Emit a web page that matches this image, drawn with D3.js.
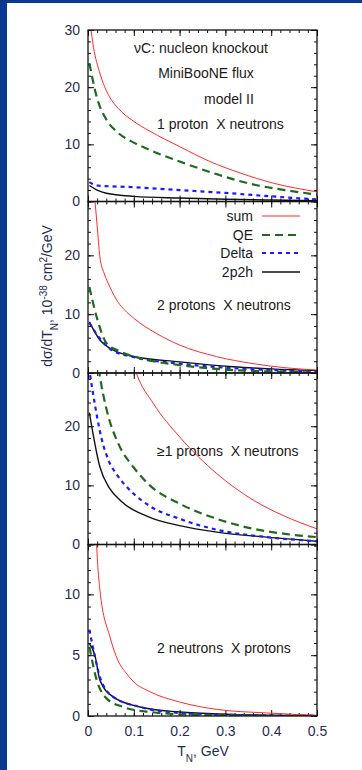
<!DOCTYPE html>
<html><head><meta charset="utf-8">
<script src="https://cdn.jsdelivr.net/npm/d3@7"></script>
<style>body{margin:0;background:#0a3a8f;} svg{display:block}</style>
</head><body><svg id="c" width="362" height="770"></svg>
<script>
// ---- data ----
const xTicks = [0, 0.1, 0.2, 0.3, 0.4, 0.5];
const xTickLabels = ["0", "0.1", "0.2", "0.3", "0.4", "0.5"];
const seriesNames = ["sum", "QE", "Delta", "2p2h"];
const panelLabels = ["1 proton  X neutrons", "2 protons  X neutrons", "\u22651 protons  X neutrons", "2 neutrons  X protons"];
const panelYMax = [30, 29.15, 29, 14.1];
const panelYTicks = [[0, 10, 20, 30], [0, 10, 20], [0, 10, 20], [0, 5, 10]];
const panelYMinorStep = [2, 2, 2, 1];

// panel 1: 1 proton X neutrons
const p1Sum = [[0.005,31],[0.012,27],[0.025,22.7],[0.047,18.3],[0.066,16.3],[0.1,14.0],[0.135,12.3],[0.2,9.6],[0.266,7.0],[0.332,5.0],[0.405,3.2],[0.5,1.7]];
const p1QE = [[0.003,24.2],[0.019,18.3],[0.041,14.2],[0.063,12.2],[0.1,10.3],[0.135,9.0],[0.2,7.0],[0.28,4.8],[0.36,3.0],[0.43,2.0],[0.5,1.2]];
const p1Delta = [[0.003,3.4],[0.02,2.8],[0.1,2.5],[0.2,2.0],[0.3,1.5],[0.4,0.9],[0.5,0.35]];
const p1TwoP = [[0.003,2.8],[0.02,2.0],[0.04,1.45],[0.1,0.9],[0.2,0.6],[0.3,0.4],[0.4,0.25],[0.5,0.15]];
// panel 2: 2 protons X neutrons
const p2Sum = [[0.015,29.5],[0.02,25],[0.026,19.7],[0.035,17],[0.048,14.6],[0.066,12.0],[0.08,10.7],[0.1,9.3],[0.15,6.7],[0.2,4.75],[0.28,2.8],[0.36,1.6],[0.43,0.9],[0.5,0.5]];
const p2QE = [[0.003,14.6],[0.019,9.5],[0.041,5.0],[0.063,3.9],[0.114,2.5],[0.2,1.35],[0.317,0.5],[0.4,0.25],[0.5,0.1]];
const p2Delta = [[0.003,8.5],[0.02,6.5],[0.05,4.0],[0.1,2.7],[0.2,1.6],[0.3,0.9],[0.4,0.5],[0.5,0.2]];
const p2TwoP = [[0.003,8.7],[0.026,5.6],[0.048,4.2],[0.1,2.8],[0.2,1.9],[0.317,1.07],[0.4,0.7],[0.5,0.4]];
// panel 3: >=1 protons X neutrons
const p3Sum = [[0.08,36],[0.106,28.9],[0.143,23.8],[0.2,18.2],[0.281,12.0],[0.361,7.5],[0.426,4.9],[0.5,2.65]];
const p3QE = [[0.02,32],[0.025,29],[0.041,22.7],[0.066,17.1],[0.099,13.1],[0.135,10.0],[0.2,6.9],[0.281,4.35],[0.361,2.65],[0.43,1.8],[0.5,1.25]];
const p3Delta = [[0.002,30],[0.01,26],[0.02,21.5],[0.03,17.8],[0.045,14.2],[0.065,11.6],[0.09,9.3],[0.135,6.5],[0.2,4.35],[0.281,2.5],[0.39,1.25],[0.5,0.56]];
const p3TwoP = [[0.003,22.3],[0.026,13.1],[0.048,9.4],[0.07,7.5],[0.135,4.6],[0.2,3.2],[0.281,2.1],[0.39,1.25],[0.5,0.56]];
// panel 4: 2 neutrons X protons
const p4Sum = [[0.015,18],[0.019,14],[0.026,10.35],[0.048,6.5],[0.065,4.6],[0.084,3.5],[0.1,2.8],[0.135,2.0],[0.2,1.15],[0.28,0.55],[0.39,0.25],[0.5,0.06]];
const p4QE = [[0.003,5.7],[0.019,2.95],[0.041,1.43],[0.077,0.74],[0.135,0.33],[0.25,0.08],[0.5,0.0]];
const p4Delta = [[0.003,7.1],[0.015,4.9],[0.026,3.2],[0.055,1.57],[0.114,0.74],[0.2,0.25],[0.3,0.1],[0.5,0.02]];
const p4TwoP = [[0.003,5.96],[0.015,5.0],[0.026,2.95],[0.055,1.57],[0.114,0.74],[0.2,0.33],[0.3,0.15],[0.5,0.03]];

const panelSeries = [
  [p1Sum, p1QE, p1Delta, p1TwoP],
  [p2Sum, p2QE, p2Delta, p2TwoP],
  [p3Sum, p3QE, p3Delta, p3TwoP],
  [p4Sum, p4QE, p4Delta, p4TwoP]
];

// ---- styles ----
const styles = [
  {color: "#ff2a2a", width: 1, dash: null},
  {color: "#1e6b1e", width: 2.2, dash: "8,5"},
  {color: "#1a1aff", width: 2.2, dash: "4,4"},
  {color: "#111111", width: 1.4, dash: null}
];
const font = "'Liberation Sans', Arial, sans-serif";
const tickColor = "#1f2d55";

const svg = d3.select("#c");
svg.append("rect").attr("width", 362).attr("height", 770).attr("fill", "#0a3a8f");
svg.append("rect").attr("x", 7).attr("y", 3).attr("width", 355).attr("height", 767).attr("fill", "#fff");

const left = 88, right = 317, top0 = 30, panelH = 171.5;
const x = d3.scaleLinear().domain([0, 0.5]).range([left, right]);
const xMinor = d3.range(0, 0.5001, 0.02);

panelSeries.forEach((series, i) => {
  const pt = top0 + i * panelH, pb = pt + panelH;
  const y = d3.scaleLinear().domain([0, panelYMax[i]]).range([pb, pt]);
  const g = svg.append("g");
  const cid = "clip" + i;
  svg.append("clipPath").attr("id", cid).append("rect")
    .attr("x", left).attr("y", pt).attr("width", right - left).attr("height", panelH);

  const yMinor = d3.range(0, panelYMax[i] + 0.001, panelYMinorStep[i]);
  const addAxis = (axis, tx, ty) => {
    const a = g.append("g").attr("transform", `translate(${tx},${ty})`).call(axis);
    a.select(".domain").remove();
    a.selectAll("line").attr("stroke", "#111").attr("stroke-width", 1);
    return a;
  };
  // minor ticks
  addAxis(d3.axisLeft(y).tickValues(yMinor).tickSize(-3).tickFormat(""), left, 0);
  addAxis(d3.axisRight(y).tickValues(yMinor).tickSize(-3).tickFormat(""), right, 0);
  addAxis(d3.axisBottom(x).tickValues(xMinor).tickSize(-3).tickFormat(""), 0, pb);
  addAxis(d3.axisTop(x).tickValues(xMinor).tickSize(-3).tickFormat(""), 0, pt);
  // major ticks
  const yl = addAxis(d3.axisLeft(y).tickValues(panelYTicks[i]).tickSize(-6).tickPadding(8).tickFormat(d3.format("d")), left, 0);
  yl.selectAll("text").attr("font-family", font).attr("font-size", 14).attr("fill", tickColor);
  addAxis(d3.axisRight(y).tickValues(panelYTicks[i]).tickSize(-6).tickFormat(""), right, 0);
  addAxis(d3.axisTop(x).tickValues(xTicks).tickSize(-6).tickFormat(""), 0, pt);
  const xb = addAxis(d3.axisBottom(x).tickValues(xTicks).tickSize(-6).tickPadding(10)
      .tickFormat((d, k) => i === 3 ? xTickLabels[k] : ""), 0, pb);
  xb.selectAll("text").attr("font-family", font).attr("font-size", 14).attr("fill", tickColor);

  // curves
  const line = d3.line().curve(d3.curveMonotoneX).x(d => x(d[0])).y(d => y(d[1]));
  const cg = g.append("g").attr("clip-path", `url(#${cid})`);
  [3, 2, 1, 0].forEach(k => {
    const st = styles[k];
    cg.append("path").datum(series[k]).attr("d", line)
      .attr("fill", "none").attr("stroke", st.color).attr("stroke-width", st.width)
      .attr("stroke-dasharray", st.dash).attr("stroke-linejoin", "round");
  });

  // frame
  g.append("rect").attr("x", left).attr("y", pt).attr("width", right - left).attr("height", panelH)
    .attr("fill", "none").attr("stroke", "#111").attr("stroke-width", 1.3);
});

// annotations
const ann = svg.append("g").attr("font-family", font).attr("font-size", 14).attr("fill", "#1a1a1a");
ann.append("text").attr("x", 201).attr("y", 53).attr("text-anchor", "middle").text("\u03bdC: nucleon knockout");
ann.append("text").attr("x", 206).attr("y", 78).attr("text-anchor", "middle").text("MiniBooNE flux");
ann.append("text").attr("x", 229).attr("y", 104).attr("text-anchor", "middle").text("model II");
const labelY = [129, 310, 456, 653];
panelLabels.forEach((t, i) => {
  ann.append("text").attr("x", 157).attr("y", labelY[i]).attr("xml:space", "preserve").style("white-space", "pre").text(t);
});

// legend
const legY = [216, 235, 253, 272];
seriesNames.forEach((n, k) => {
  const st = styles[k];
  ann.append("text").attr("x", 253).attr("y", legY[k] + 5).attr("text-anchor", "end").text(n);
  svg.append("line").attr("x1", 262).attr("x2", 300).attr("y1", legY[k]).attr("y2", legY[k])
    .attr("stroke", st.color).attr("stroke-width", st.width).attr("stroke-dasharray", st.dash);
});

// axis titles
const yt = ann.append("text").attr("transform", "translate(52,296) rotate(-90)").attr("text-anchor", "middle").attr("fill", tickColor);
yt.append("tspan").text("d\u03c3/dT");
yt.append("tspan").attr("font-size", 10).attr("baseline-shift", "sub").text("N");
yt.append("tspan").text(", 10");
yt.append("tspan").attr("font-size", 10).attr("baseline-shift", "super").text("-38");
yt.append("tspan").text(" cm");
yt.append("tspan").attr("font-size", 10).attr("baseline-shift", "super").text("2");
yt.append("tspan").text("/GeV");

const xt = ann.append("text").attr("x", 203).attr("y", 756).attr("text-anchor", "middle").attr("fill", tickColor);
xt.append("tspan").text("T");
xt.append("tspan").attr("font-size", 10).attr("baseline-shift", "sub").text("N");
xt.append("tspan").text(", GeV");
</script>
</body></html>
